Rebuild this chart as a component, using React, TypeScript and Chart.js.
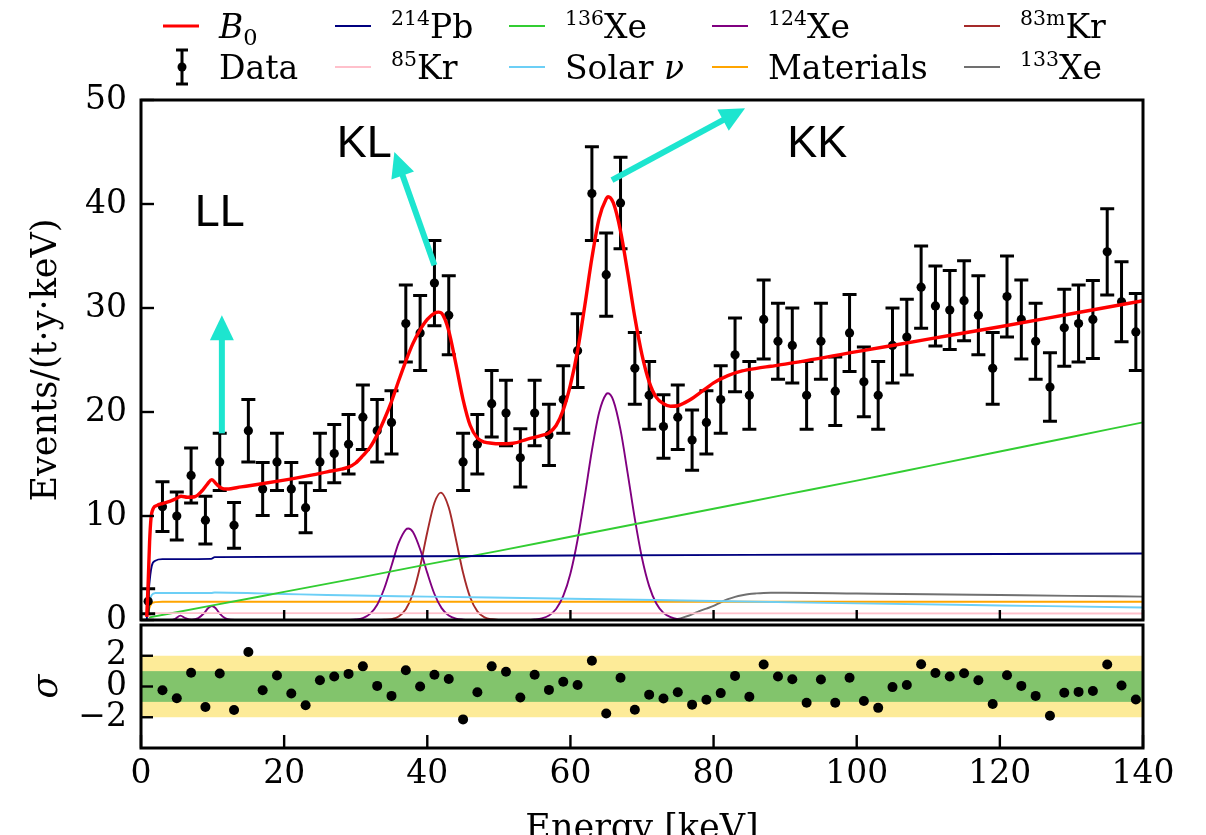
import { useEffect, useRef } from 'react';
import { Chart, registerables } from 'chart.js';

Chart.register(...registerables);

// ---- Binned spectrum (2 keV bins) ----
const binCenters = [1, 3, 5, 7, 9, 11, 13, 15, 17, 19, 21, 23, 25, 27, 29, 31, 33, 35, 37, 39, 41, 43, 45, 47, 49, 51, 53, 55, 57, 59, 61, 63, 65, 67, 69, 71, 73, 75, 77, 79, 81, 83, 85, 87, 89, 91, 93, 95, 97, 99, 101, 103, 105, 107, 109, 111, 113, 115, 117, 119, 121, 123, 125, 127, 129, 131, 133, 135, 137, 139];
const eventRate = [1.8, 10.9, 10.0, 13.9, 9.6, 15.2, 9.1, 18.2, 12.6, 15.2, 12.6, 10.8, 15.2, 16.0, 16.9, 19.5, 18.2, 19.0, 28.5, 27.6, 32.4, 29.3, 15.2, 16.9, 20.8, 19.9, 15.6, 19.9, 17.8, 21.2, 25.9, 41.0, 33.2, 40.1, 24.2, 21.6, 18.6, 19.5, 17.3, 19.0, 21.2, 25.5, 21.6, 28.9, 26.8, 26.4, 21.6, 26.8, 22.0, 27.6, 22.9, 21.6, 26.4, 27.2, 32.0, 30.2, 29.8, 30.7, 29.3, 24.2, 31.1, 28.9, 26.8, 22.4, 28.1, 28.5, 28.9, 35.4, 30.6, 27.7];
const rateError = [1.2, 2.4, 2.3, 2.65, 2.3, 2.75, 2.2, 3.0, 2.55, 2.75, 2.55, 2.4, 2.75, 2.8, 2.85, 3.1, 3.0, 3.05, 3.7, 3.6, 4.1, 3.8, 2.75, 2.85, 3.2, 3.15, 2.8, 3.15, 2.95, 3.25, 3.55, 4.5, 4.0, 4.4, 3.45, 3.25, 3.05, 3.1, 2.9, 3.05, 3.25, 3.55, 3.25, 3.8, 3.65, 3.6, 3.25, 3.65, 3.3, 3.7, 3.35, 3.25, 3.6, 3.65, 3.95, 3.85, 3.8, 3.85, 3.8, 3.45, 3.9, 3.8, 3.65, 3.3, 3.7, 3.7, 3.75, 4.15, 3.85, 3.7];

// ---- Normalised residuals ----
const residualCenters = [3, 5, 7, 9, 11, 13, 15, 17, 19, 21, 23, 25, 27, 29, 31, 33, 35, 37, 39, 41, 43, 45, 47, 49, 51, 53, 55, 57, 59, 61, 63, 65, 67, 69, 71, 73, 75, 77, 79, 81, 83, 85, 87, 89, 91, 93, 95, 97, 99, 101, 103, 105, 107, 109, 111, 113, 115, 117, 119, 121, 123, 125, 127, 129, 131, 133, 135, 137, 139];
const residualSigma = [-0.24, -0.76, 0.9, -1.33, 0.84, -1.53, 2.24, -0.24, 0.71, -0.45, -1.22, 0.41, 0.65, 0.82, 1.31, 0.04, -0.61, 1.06, 0.0, 0.76, 0.49, -2.14, -0.37, 1.31, 0.96, -0.71, 0.76, -0.22, 0.31, 0.1, 1.67, -1.76, 0.57, -1.51, -0.53, -0.78, -0.37, -1.18, -0.86, -0.43, 0.69, -0.67, 1.43, 0.65, 0.47, -1.06, 0.45, -1.06, 0.57, -0.94, -1.39, -0.04, 0.1, 1.45, 0.88, 0.65, 0.86, 0.41, -1.14, 0.73, 0.04, -0.61, -1.9, -0.41, -0.35, -0.29, 1.43, 0.06, -0.84];

// ---- Background model B0 and its components ----
const b0Energy = [0.8, 1.0, 1.2, 1.4, 1.7, 2.2, 3, 4, 5, 5.6, 6.5, 7.5, 8.5, 9.3, 9.9, 10.5, 11.2, 12, 14, 16, 20, 24, 26, 28, 29, 30, 31, 32, 33, 34, 35, 36, 37, 38, 39, 40, 41, 41.6, 42, 43, 44, 45, 46, 47, 48, 49, 50, 52, 54, 56, 57, 58, 59, 60, 61, 62, 63, 64, 65, 65.25, 66, 67, 68, 69, 70, 71, 72, 73, 74, 75, 76, 77, 78, 79, 80, 82, 84, 86, 88, 90, 100, 110, 120, 130, 140];
const b0Rate = [0.3, 3.5, 7.5, 9.8, 10.7, 11.0, 11.2, 11.4, 11.7, 11.9, 11.8, 11.85, 12.4, 13.1, 13.5, 13.1, 12.7, 12.6, 12.8, 13.0, 13.45, 13.95, 14.25, 14.5, 14.7, 15.1, 15.8, 16.6, 17.8, 19.3, 21.0, 23.0, 24.9, 26.6, 27.9, 28.9, 29.5, 29.6, 29.5, 27.8, 24.6, 21.2, 18.7, 17.5, 17.1, 17.0, 16.95, 17.0, 17.4, 17.75, 18.0, 18.7, 20.2, 22.6, 25.9, 30.2, 34.8, 38.6, 40.5, 40.7, 40.1, 37.4, 33.4, 29.1, 25.5, 22.9, 21.4, 20.8, 20.55, 20.6, 20.9, 21.3, 21.8, 22.3, 22.8, 23.5, 23.95, 24.2, 24.4, 24.6, 25.8, 27.0, 28.2, 29.45, 30.7];

const pb214Energy = [0.8, 1.1, 1.5, 2, 3, 9.8, 10.3, 30, 60, 100, 140];
const pb214Rate = [0, 3.0, 5.2, 5.7, 5.85, 5.88, 6.05, 6.1, 6.2, 6.3, 6.4];

const kr85Energy = [0.8, 1.1, 1.5, 2, 140];
const kr85Rate = [0, 0.4, 0.6, 0.66, 0.62];

const xe136Energy = [0.8, 10, 20, 30, 40, 50, 60, 70, 80, 90, 100, 110, 120, 130, 140];
const xe136Rate = [0.2, 1.4, 2.7, 4.0, 5.35, 6.65, 8.0, 9.35, 10.7, 12.05, 13.4, 14.8, 16.2, 17.6, 19.0];

const solarEnergy = [0.8, 1.1, 1.5, 2, 9.8, 10.3, 20, 26, 40, 60, 80, 100, 120, 140];
const solarRate = [0, 1.5, 2.4, 2.6, 2.6, 2.65, 2.5, 2.4, 2.25, 2.05, 1.82, 1.6, 1.4, 1.2];

const xe124Energy = [0.8, 4, 4.8, 5.5, 6.2, 7.1, 8.0, 8.8, 9.4, 9.9, 10.4, 11.0, 11.8, 12.5, 14, 28, 29, 30, 31, 32, 33, 34, 35, 36, 37, 37.35, 38, 39, 40, 41, 42, 43, 44, 45, 46, 48, 54, 55, 56, 57, 58, 59, 60, 61, 62, 63, 64, 65, 65.25, 66, 67, 68, 69, 70, 71, 72, 73, 74, 75, 76, 78, 140];
const xe124Rate = [0, 0, 0.12, 0.42, 0.18, 0.03, 0.18, 0.65, 1.15, 1.35, 1.15, 0.62, 0.15, 0.03, 0, 0, 0.01, 0.05, 0.19, 0.59, 1.47, 3.05, 5.22, 7.41, 8.7, 8.8, 8.46, 6.8, 4.53, 2.5, 1.14, 0.43, 0.13, 0.035, 0.01, 0, 0, 0.05, 0.16, 0.44, 1.06, 2.31, 4.47, 7.72, 11.88, 16.3, 19.93, 21.72, 21.8, 21.1, 18.28, 14.1, 9.72, 5.96, 3.26, 1.59, 0.69, 0.27, 0.09, 0.03, 0, 0];

const materialsEnergy = [0.8, 1.1, 1.5, 2, 3, 140];
const materialsRate = [0, 1.0, 1.6, 1.72, 1.76, 1.76];

const kr83mEnergy = [0.8, 33, 34, 35, 36, 37, 38, 39, 40, 41, 41.9, 43, 44, 45, 46, 47, 48, 49, 50, 51, 140];
const kr83mRate = [0, 0, 0.02, 0.09, 0.34, 1.03, 2.55, 5.14, 8.44, 11.27, 12.25, 10.81, 7.77, 4.54, 2.16, 0.83, 0.26, 0.07, 0.01, 0, 0];

const xe133Energy = [0.8, 73, 74, 75, 76, 77, 78, 79, 80, 81, 82, 83, 84, 85, 86, 87, 88, 90, 100, 110, 120, 130, 140];
const xe133Rate = [0, 0, 0.02, 0.1, 0.3, 0.55, 0.85, 1.1, 1.35, 1.7, 2.0, 2.22, 2.38, 2.5, 2.56, 2.6, 2.62, 2.62, 2.55, 2.48, 2.4, 2.32, 2.25];

// ---- Axis ticks ----
const energyTicks = [0, 20, 40, 60, 80, 100, 120, 140];
const rateTicks = [0, 10, 20, 30, 40, 50];
const sigmaTicks = [-2, 0, 2];
const sigmaBands = [2, 1];

// ---- Peak annotations (energy, rate) ----
const peakLabels = ['LL', 'KL', 'KK'];
const peakLabelAt = [[11.0, 39.1], [31.2, 45.7], [94.5, 45.7]];
const peakArrowFrom = [[11.3, 17.95], [41.0, 34.1], [65.8, 42.3]];
const peakArrowTo = [[11.3, 29.3], [35.4, 45.0], [84.4, 49.2]];

const SERIF = '"DejaVu Serif", serif';
const SANS = '"Liberation Sans", Arial, sans-serif';
const ARROW_COLOR = '#1de5cf';
const BAND_OUTER = '#fdeb98';
const BAND_INNER = '#82c46c';

type Part = { t: string; k?: 'sup' | 'sub' | 'it' };
type LegendItem = { color: string; width: number; parts: Part[]; errorbar?: boolean };

// Column-major order, two rows
const legendItems: LegendItem[] = [
  { color: '#ff0000', width: 3, parts: [{ t: 'B', k: 'it' }, { t: '0', k: 'sub' }] },
  { color: '#000000', width: 2, parts: [{ t: 'Data' }], errorbar: true },
  { color: '#00007f', width: 2, parts: [{ t: '214', k: 'sup' }, { t: 'Pb' }] },
  { color: '#ffc0cb', width: 2, parts: [{ t: '85', k: 'sup' }, { t: 'Kr' }] },
  { color: '#32cd32', width: 2, parts: [{ t: '136', k: 'sup' }, { t: 'Xe' }] },
  { color: '#6ccff6', width: 2, parts: [{ t: 'Solar ' }, { t: 'ν', k: 'it' }] },
  { color: '#800080', width: 2, parts: [{ t: '124', k: 'sup' }, { t: 'Xe' }] },
  { color: '#ffa500', width: 2, parts: [{ t: 'Materials' }] },
  { color: '#a52a2a', width: 2, parts: [{ t: '83m', k: 'sup' }, { t: 'Kr' }] },
  { color: '#707070', width: 2, parts: [{ t: '133', k: 'sup' }, { t: 'Xe' }] },
];
const legendColumnX = [163, 335, 509, 712, 964];
const legendRowY = [26, 67];

function drawRich(ctx: CanvasRenderingContext2D, x: number, baseline: number, parts: Part[], size: number) {
  let cx = x;
  for (const p of parts) {
    let fs = size;
    let dy = 0;
    let style = '';
    if (p.k === 'sup') { fs = size * 0.62; dy = -size * 0.4; }
    if (p.k === 'sub') { fs = size * 0.68; dy = size * 0.22; }
    if (p.k === 'it') style = 'italic ';
    ctx.font = `${style}${fs}px ${SERIF}`;
    ctx.fillText(p.t, cx, baseline + dy);
    cx += ctx.measureText(p.t).width;
  }
}

function line(ctx: CanvasRenderingContext2D, x0: number, y0: number, x1: number, y1: number) {
  ctx.beginPath();
  ctx.moveTo(x0, y0);
  ctx.lineTo(x1, y1);
  ctx.stroke();
}

function curve(label: string, xs: number[], ys: number[], color: string, width: number, order: number) {
  return {
    label,
    data: xs.map((x, i) => ({ x, y: ys[i] })),
    borderColor: color,
    backgroundColor: color,
    borderWidth: width,
    pointRadius: 0,
    fill: false,
    cubicInterpolationMode: 'monotone' as const,
    order,
  };
}

const mainPlugin = {
  id: 'mainDecor',
  beforeDatasetDraw(chart: any, args: any) {
    if (chart.data.datasets[args.index].label !== 'Data') return;
    const { ctx, scales: { x, y } } = chart;
    ctx.save();
    ctx.strokeStyle = '#000';
    ctx.lineWidth = 3;
    binCenters.forEach((e, i) => {
      const px = x.getPixelForValue(e);
      const top = y.getPixelForValue(eventRate[i] + rateError[i]);
      const bot = y.getPixelForValue(eventRate[i] - rateError[i]);
      ctx.beginPath();
      ctx.moveTo(px, top); ctx.lineTo(px, bot);
      ctx.moveTo(px - 7, top); ctx.lineTo(px + 7, top);
      ctx.moveTo(px - 7, bot); ctx.lineTo(px + 7, bot);
      ctx.stroke();
    });
    ctx.restore();
  },
  afterDraw(chart: any) {
    const { ctx, chartArea: ca, scales: { x, y } } = chart;
    ctx.save();
    // peak arrows
    ctx.strokeStyle = ARROW_COLOR;
    ctx.fillStyle = ARROW_COLOR;
    peakArrowFrom.forEach((from, i) => {
      const to = peakArrowTo[i];
      const x0 = x.getPixelForValue(from[0]);
      const y0 = y.getPixelForValue(from[1]);
      const x1 = x.getPixelForValue(to[0]);
      const y1 = y.getPixelForValue(to[1]);
      const len = Math.hypot(x1 - x0, y1 - y0);
      const ux = (x1 - x0) / len;
      const uy = (y1 - y0) / len;
      const head = 25;
      const half = 12;
      const bx = x1 - ux * head;
      const by = y1 - uy * head;
      ctx.lineWidth = 6;
      ctx.lineCap = 'butt';
      line(ctx, x0, y0, bx + ux * 2, by + uy * 2);
      ctx.beginPath();
      ctx.moveTo(x1, y1);
      ctx.lineTo(bx - uy * half, by + ux * half);
      ctx.lineTo(bx + uy * half, by - ux * half);
      ctx.closePath();
      ctx.fill();
    });
    // peak labels
    ctx.fillStyle = '#000';
    ctx.font = `45px ${SANS}`;
    ctx.textAlign = 'center';
    ctx.textBaseline = 'middle';
    peakLabels.forEach((t, i) => {
      ctx.fillText(t, x.getPixelForValue(peakLabelAt[i][0]), y.getPixelForValue(peakLabelAt[i][1]));
    });
    // frame and inward ticks
    ctx.strokeStyle = '#000';
    ctx.lineWidth = 3;
    ctx.strokeRect(ca.left, ca.top, ca.right - ca.left, ca.bottom - ca.top);
    ctx.lineWidth = 2.4;
    rateTicks.forEach((v) => {
      const py = y.getPixelForValue(v);
      line(ctx, ca.left, py, ca.left + 13, py);
    });
    energyTicks.forEach((v) => {
      const px = x.getPixelForValue(v);
      line(ctx, px, ca.bottom, px, ca.bottom - 10);
    });
    // legend
    ctx.textAlign = 'left';
    ctx.textBaseline = 'alphabetic';
    legendItems.forEach((item, i) => {
      const col = Math.floor(i / 2);
      const row = i % 2;
      const sx = legendColumnX[col];
      const sy = legendRowY[row];
      ctx.strokeStyle = item.color;
      ctx.fillStyle = item.color;
      if (item.errorbar) {
        const cx = sx + 19;
        ctx.lineWidth = 3;
        line(ctx, cx, sy - 17, cx, sy + 17);
        line(ctx, cx - 6, sy - 17, cx + 6, sy - 17);
        line(ctx, cx - 6, sy + 17, cx + 6, sy + 17);
        ctx.beginPath();
        ctx.arc(cx, sy, 4.5, 0, Math.PI * 2);
        ctx.fill();
      } else {
        ctx.lineWidth = item.width;
        line(ctx, sx, sy, sx + 36, sy);
      }
      ctx.fillStyle = '#000';
      drawRich(ctx, sx + 56, sy + 12, item.parts, 33);
    });
    ctx.restore();
  },
};

const residualPlugin = {
  id: 'residualDecor',
  beforeDatasetsDraw(chart: any) {
    const { ctx, chartArea: ca, scales: { y } } = chart;
    ctx.save();
    [BAND_OUTER, BAND_INNER].forEach((c, i) => {
      const s = sigmaBands[i];
      const top = y.getPixelForValue(s);
      const bot = y.getPixelForValue(-s);
      ctx.fillStyle = c;
      ctx.fillRect(ca.left, top, ca.right - ca.left, bot - top);
    });
    ctx.restore();
  },
  afterDraw(chart: any) {
    const { ctx, chartArea: ca, scales: { x, y } } = chart;
    ctx.save();
    ctx.strokeStyle = '#000';
    ctx.lineWidth = 3;
    ctx.strokeRect(ca.left, ca.top, ca.right - ca.left, ca.bottom - ca.top);
    ctx.lineWidth = 2.4;
    sigmaTicks.forEach((v) => {
      const py = y.getPixelForValue(v);
      line(ctx, ca.left, py, ca.left + 12, py);
    });
    energyTicks.forEach((v) => {
      const px = x.getPixelForValue(v);
      line(ctx, px, ca.bottom, px, ca.bottom - 13);
    });
    ctx.restore();
  },
};

const tickFont = { family: SERIF, size: 33 };
const titleFont = { family: SERIF, size: 35 };

export default function App() {
  const mainRef = useRef<HTMLCanvasElement>(null);
  const residRef = useRef<HTMLCanvasElement>(null);

  useEffect(() => {
    const main = new Chart(mainRef.current as HTMLCanvasElement, {
      type: 'line',
      data: {
        datasets: [
          curve('B0', b0Energy, b0Rate, '#ff0000', 3.4, 0),
          {
            label: 'Data',
            data: binCenters.map((x, i) => ({ x, y: eventRate[i] })),
            showLine: false,
            pointRadius: 4.6,
            pointBorderWidth: 0,
            pointBackgroundColor: '#000',
            borderColor: '#000',
            order: 1,
          },
          curve('214Pb', pb214Energy, pb214Rate, '#00007f', 1.9, 2),
          curve('85Kr', kr85Energy, kr85Rate, '#ffc0cb', 1.9, 2),
          curve('136Xe', xe136Energy, xe136Rate, '#32cd32', 1.9, 2),
          curve('Solar ν', solarEnergy, solarRate, '#6ccff6', 1.9, 2),
          curve('124Xe', xe124Energy, xe124Rate, '#800080', 1.9, 2),
          curve('Materials', materialsEnergy, materialsRate, '#ffa500', 1.9, 2),
          curve('83mKr', kr83mEnergy, kr83mRate, '#a52a2a', 1.9, 2),
          curve('133Xe', xe133Energy, xe133Rate, '#707070', 1.9, 2),
        ] as any,
      },
      options: {
        responsive: false,
        maintainAspectRatio: false,
        animation: false,
        layout: { padding: { left: 0, right: 63, top: 100, bottom: 20 } },
        plugins: { legend: { display: false }, tooltip: { enabled: false } },
        scales: {
          x: { type: 'linear', min: 0, max: 140, display: false },
          y: {
            min: 0,
            max: 50,
            ticks: { stepSize: 10, font: tickFont, color: '#000', padding: 14 },
            grid: { display: false, drawTicks: false },
            border: { display: false },
            title: { display: true, text: 'Events/(t·y·keV)', font: titleFont, color: '#000', padding: { top: 26, bottom: 0 } },
            afterFit: (s: any) => { s.width = 141; s.paddingTop = 0; s.paddingBottom = 0; },
          },
        },
      },
      plugins: [mainPlugin],
    });

    const resid = new Chart(residRef.current as HTMLCanvasElement, {
      type: 'line',
      data: {
        datasets: [
          {
            label: 'Residual',
            data: residualCenters.map((x, i) => ({ x, y: residualSigma[i] })),
            showLine: false,
            pointRadius: 5,
            pointBorderWidth: 0,
            pointBackgroundColor: '#000',
            borderColor: '#000',
          },
        ] as any,
      },
      options: {
        responsive: false,
        maintainAspectRatio: false,
        animation: false,
        layout: { padding: { left: 0, right: 63, top: 0, bottom: 0 } },
        plugins: { legend: { display: false }, tooltip: { enabled: false } },
        scales: {
          x: {
            type: 'linear',
            min: 0,
            max: 140,
            ticks: { stepSize: 20, font: tickFont, color: '#000', padding: 7, maxRotation: 0 },
            grid: { display: false, drawTicks: false },
            border: { display: false },
            title: { display: true, text: 'Energy [keV]', font: titleFont, color: '#000', padding: { top: 0, bottom: 9 } },
            afterFit: (s: any) => { s.height = 112; s.paddingLeft = 0; s.paddingRight = 0; },
          },
          y: {
            min: -4,
            max: 4,
            afterBuildTicks: (s: any) => { s.ticks = sigmaTicks.map((v) => ({ value: v })); },
            ticks: {
              font: tickFont,
              color: '#000',
              padding: 14,
              callback: (v: any) => (Number(v) < 0 ? '\u2212' + Math.abs(Number(v)) : String(v)),
            },
            grid: { display: false, drawTicks: false },
            border: { display: false },
            title: { display: true, text: 'σ', font: { family: SERIF, size: 35, style: 'italic' }, color: '#000', padding: { top: 27, bottom: 0 } },
            afterFit: (s: any) => { s.width = 141; s.paddingTop = 0; s.paddingBottom = 0; },
          },
        },
      },
      plugins: [residualPlugin],
    });

    return () => {
      main.destroy();
      resid.destroy();
    };
  }, []);

  return (
    <div style={{ position: 'absolute', left: 0, top: 0, width: 1206, height: 835, overflow: 'hidden', background: '#fff' }}>
      <canvas ref={mainRef} width={1206} height={640} style={{ position: 'absolute', left: 0, top: 0 }} />
      <canvas ref={residRef} width={1206} height={240} style={{ position: 'absolute', left: 0, top: 620 }} />
    </div>
  );
}
